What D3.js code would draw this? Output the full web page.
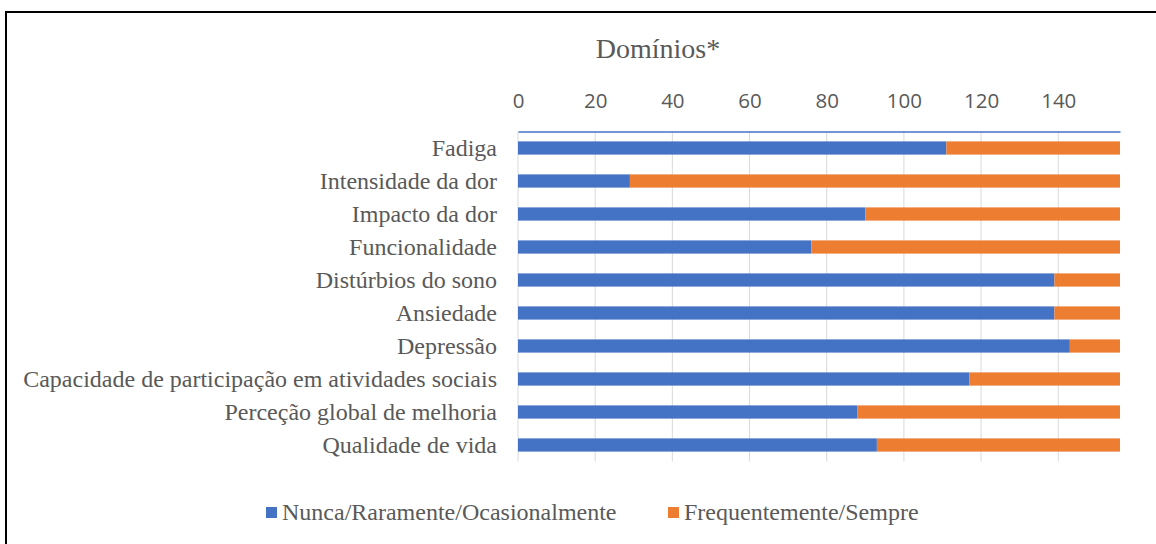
<!DOCTYPE html>
<html>
<head>
<meta charset="utf-8">
<script src="https://cdn.jsdelivr.net/npm/d3@7"></script>
<style>
  body { margin: 0; background: #fff; }
  svg { display: block; }
</style>
</head>
<body>
<svg id="chart"></svg>
<script>
// Domínios* - stacked horizontal bars

const categories = [
  'Fadiga',
  'Intensidade da dor',
  'Impacto da dor',
  'Funcionalidade',
  'Distúrbios do sono',
  'Ansiedade',
  'Depressão',
  'Capacidade de participação em atividades sociais',
  'Perceção global de melhoria',
  'Qualidade de vida'
];
const nunca = [111, 29, 90, 76, 139, 139, 143, 117, 88, 93];
const frequente = [45, 127, 66, 80, 17, 17, 13, 39, 68, 63];
const seriesNames = ['Nunca/Raramente/Ocasionalmente', 'Frequentemente/Sempre'];
const colors = ['#4472C4', '#ED7D31'];
const tickValues = [0, 20, 40, 60, 80, 100, 120, 140];

const width = 1156;
const height = 544;

const svg = d3.select('#chart')
  .attr('width', width)
  .attr('height', height);

// outer frame (right/bottom edges are off the picture)
svg.append('rect')
  .attr('x', 6).attr('y', 12)
  .attr('width', 1200).attr('height', 600)
  .attr('fill', 'none')
  .attr('stroke', '#000')
  .attr('stroke-width', 2);

const rows = categories.map((c, i) => ({cat: c, a: nunca[i], b: frequente[i]}));

const x = d3.scaleLinear().domain([0, 156]).range([518, 1120]);
const y = d3.scaleBand().domain(categories).range([131.5, 461.5]).paddingInner(0.6).paddingOuter(0.3);

// gridlines
svg.append('g')
  .selectAll('line')
  .data(tickValues)
  .enter()
  .append('line')
  .attr('x1', d => x(d)).attr('x2', d => x(d))
  .attr('y1', 131.5).attr('y2', 461.5)
  .attr('stroke', '#d9d9d9')
  .attr('stroke-width', 1);

// top axis
const axis = svg.append('g')
  .attr('transform', 'translate(0,131.5)')
  .call(d3.axisTop(x).tickValues(tickValues).tickSize(0).tickPadding(24));
axis.select('.domain').attr('stroke', '#4472C4').attr('stroke-width', 1.3);
axis.selectAll('text')
  .attr('fill', '#595959')
  .style('font-family', 'Open Sans, sans-serif')
  .style('font-size', '20.5px');

// bars
const stack = d3.stack().keys(['a', 'b'])(rows);
svg.append('g')
  .selectAll('g')
  .data(stack)
  .enter()
  .append('g')
  .attr('fill', (d, i) => colors[i])
  .selectAll('rect')
  .data(d => d)
  .enter()
  .append('rect')
  .attr('x', d => x(d[0]))
  .attr('width', d => x(d[1]) - x(d[0]))
  .attr('y', d => y(d.data.cat))
  .attr('height', y.bandwidth());

// category labels
svg.append('g')
  .selectAll('text')
  .data(categories)
  .enter()
  .append('text')
  .attr('x', 497)
  .attr('y', d => y(d) + y.bandwidth() / 2)
  .attr('dy', '0.35em')
  .attr('text-anchor', 'end')
  .attr('fill', '#595959')
  .style('font-family', 'Liberation Serif, serif')
  .style('font-size', '24px')
  .text(d => d);

// title
svg.append('text')
  .attr('x', 658).attr('y', 58)
  .attr('text-anchor', 'middle')
  .attr('fill', '#595959')
  .style('font-family', 'Liberation Serif, serif')
  .style('font-size', '28px')
  .text('Domínios*');

// legend
const legendX = [266, 668];
const legend = svg.append('g')
  .selectAll('g')
  .data(seriesNames)
  .enter()
  .append('g')
  .attr('transform', (d, i) => 'translate(' + legendX[i] + ',0)');
legend.append('rect')
  .attr('x', 0).attr('y', 507)
  .attr('width', 11).attr('height', 11)
  .attr('fill', (d, i) => colors[i]);
legend.append('text')
  .attr('x', 16).attr('y', 520)
  .attr('fill', '#595959')
  .style('font-family', 'Liberation Serif, serif')
  .style('font-size', '24px')
  .text(d => d);
</script>
</body>
</html>
